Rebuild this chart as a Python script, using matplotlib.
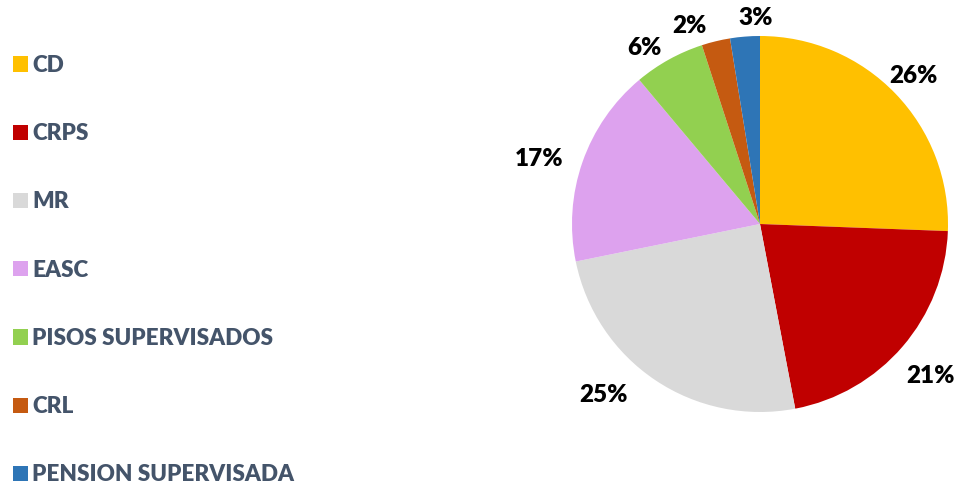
import numpy as np
import matplotlib
matplotlib.use("Agg")
import matplotlib.pyplot as plt

# Data
categories = ["CD", "CRPS", "MR", "EASC", "PISOS SUPERVISADOS", "CRL", "PENSION SUPERVISADA"]
shares = [25.6, 21.4, 24.8, 17.1, 6.1, 2.45, 2.55]
colors = ["#FFC000", "#C00000", "#D9D9D9", "#DDA2EE", "#92D050", "#C55A11", "#2E75B6"]

# label distance (in radius units) and angle nudge (deg) for outside-end labels
label_r = [1.136, 1.213, 1.233, 1.225, 1.121, 1.117, 1.096]
label_da = [0, -1, -8.6, 2.8, 4.4, 6, -3.4]

plt.rcParams["font.family"] = ["Lato", "DejaVu Sans"]

fig = plt.figure(figsize=(9.6, 4.84), dpi=100)

# pie axes: 1 unit = 188 px, centre at (760, 224) px
ax = fig.add_axes([520 / 960, 0, 440 / 960, 1])
wedges, _ = ax.pie(shares, colors=colors, startangle=90, counterclock=False,
                   radius=1, wedgeprops=dict(linewidth=0))
ax.set_xlim(-240 / 188, 200 / 188)
ax.set_ylim(-260 / 188, 224 / 188)
ax.set_aspect("equal")
ax.axis("off")

total = sum(shares)
for w, v, r, da in zip(wedges, shares, label_r, label_da):
    mid = np.deg2rad((w.theta1 + w.theta2) / 2 + da)
    ax.text(r * np.cos(mid), r * np.sin(mid), f"{round(v / total * 100)}%",
            ha="center", va="center", fontsize=17.5, fontweight="heavy", color="black")

fig.legend(wedges, categories, loc="upper left", bbox_to_anchor=(0.004, 0.905),
           frameon=False, prop=dict(weight="heavy", size=16.2), labelcolor="#44546A",
           handlelength=0.67, handleheight=0.67, handletextpad=0.2, labelspacing=2.1,
           borderaxespad=0)

fig.savefig("out.png", dpi=100)
